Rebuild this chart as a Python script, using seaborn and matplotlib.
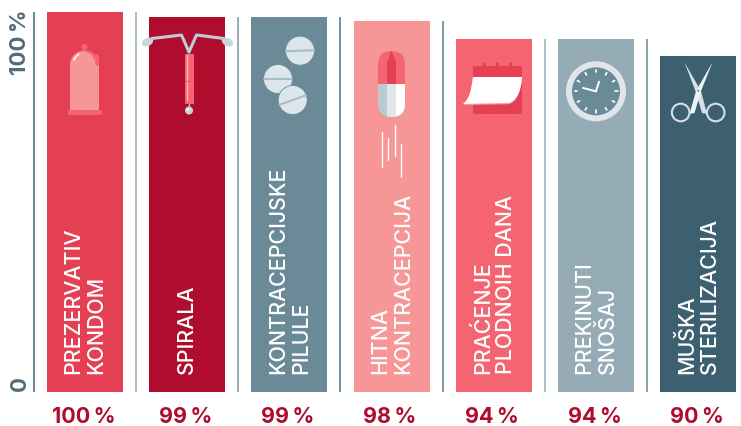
import numpy as np
import matplotlib
matplotlib.use("Agg")
import matplotlib.pyplot as plt
import pandas as pd
import seaborn as sns
from matplotlib.patches import Circle, Ellipse, FancyBboxPatch, Polygon, Rectangle, Wedge, PathPatch
from matplotlib.path import Path

categories = ["PREZERVATIV\nKONDOM", "SPIRALA", "KONTRACEPCIJSKE\nPILULE", "HITNA\nKONTRACEPCIJA",
              "PRAĆENJE\nPLODNOIH DANA", "PREKINUTI\nSNOŠAJ", "MUŠKA\nSTERILIZACIJA"]
heights = [100, 98.7, 98.7, 97.6, 92.9, 92.9, 88.4]
labels = ["100\u2009%", "99\u2009%", "99\u2009%", "98\u2009%", "94\u2009%", "94\u2009%", "90\u2009%"]
colors = ["#E43F53", "#AF0C2E", "#6B8A98", "#F79696", "#F46571", "#95ABB5", "#3C6070"]
line_colors = ["#5F7C8A", "#A5BAC4", "#8FA8B3", "#5F8A9A", "#6F93A3", "#A5BAC4", "#7F9AA6"]
line_tops = [100, 100, 98.7, 98.7, 97.6, 92.9, 92.9]
FONT = "Inter"
W, H = 741, 426
fig = plt.figure(figsize=(W/100, H/100), dpi=100)
STEP = 102.17
ax = fig.add_axes([34/W, 1-392/H, (W-34)/W, 380/H])
df = pd.DataFrame({"c": categories, "h": heights})
sns.barplot(data=df, x="c", y="h", hue="c", palette=colors, order=categories, hue_order=categories,
            width=76/STEP, legend=False, ax=ax, saturation=1)
ax.set_xlim(-0.5, (W-85)/STEP)
ax.set_ylim(0, 100)
ax.axis("off")
for i, (t, c) in enumerate(zip(line_tops, line_colors)):
    ax.vlines(i-0.5, 0, t, color=c, lw=1.3, clip_on=False)
for i, (cat, lab) in enumerate(zip(categories, labels)):
    ax.annotate(cat, (i, 0), xytext=(0, 13), textcoords="offset points", rotation=90,
                ha="center", va="bottom", color="white", fontsize=15.4, family=FONT, fontweight=500,
                linespacing=1.17, multialignment="left", annotation_clip=False)
    ax.annotate(lab, (i, 0), xytext=(-1, -18), textcoords="offset points", ha="center", va="center",
                color="#AF0C2E", fontsize=15.5, family=FONT, fontweight="bold", annotation_clip=False)
ax.annotate("100\u2009%", (-0.5, 100), xytext=(-17, 1.5), textcoords="offset points", rotation=90, ha="left", va="top",
            color="#536C79", fontsize=16, family=FONT, fontweight="bold", annotation_clip=False)
ax.annotate("0", (-0.5, 0), xytext=(-17, 0.5), textcoords="offset points", rotation=90, ha="left", va="bottom",
            color="#536C79", fontsize=16, family=FONT, fontweight="bold", annotation_clip=False)

# decorative icons in pixel space
ov = fig.add_axes([0, 0, 1, 1]); ov.set_xlim(0, W); ov.set_ylim(H, 0); ov.axis("off"); ov.patch.set_alpha(0)
def poly(pts, c, **k):
    p = Polygon(pts, closed=True, fc=c, ec="none", **k); ov.add_patch(p); return p
def line(pts, c, lw=1.2):
    p = np.array(pts); ov.plot(p[:, 0], p[:, 1], color=c, lw=lw, solid_capstyle="round", solid_joinstyle="round")
def rbox(x, y, w, h, r, c):
    b = FancyBboxPatch((x+r, y+r), w-2*r, h-2*r, boxstyle=f"round,pad={r}", fc=c, ec="none"); ov.add_patch(b); return b
# condom
ov.add_patch(Circle((84.5, 47), 3, fc="#F46571", ec="none"))
ov.add_patch(Wedge((84.5, 64.5), 14.5, 180, 360, fc="#F46571", ec="none"))
ov.add_patch(Ellipse((83, 66), 26, 29, fc="#F79696", ec="none"))
poly([(70, 65), (99, 65), (99, 111), (70, 111)], "#F79696")
ov.add_patch(Ellipse((97, 60), 4, 12, fc="#F46571", ec="none"))
rbox(68, 110, 34, 5, 2, "#F46571")
line([(74, 60), (75.5, 57), (79, 54)], "white", 1.1)
# IUD
rbox(185, 54, 9, 50, 0.5, "#F46571")
line([(186.5, 55), (186.5, 100)], "#F8B8BC", 1)
line([(185, 81), (189, 81)], "#E43F53", .5)
line([(189, 104), (189, 108)], "#BCCDD5", 1)
ov.add_patch(Circle((189, 110.5), 4, fc="#C8D6DC", ec="none"))
ov.add_patch(Circle((188, 109.5), 1.3, fc="white", ec="none"))
line([(189, 52), (181.5, 35), (152, 38.5)], "#BCCDD5", 2.2)
line([(189, 52), (196.5, 35), (224, 38.5)], "#BCCDD5", 2.2)
ov.add_patch(Ellipse((147.5, 42), 12, 8, angle=-25, fc="#C8D6DC", ec="none"))
ov.add_patch(Ellipse((227.5, 42), 12, 8, angle=25, fc="#C8D6DC", ec="none"))
# pills
for (cx, cy, a) in [(300, 50.7, -2), (278, 79, 0), (292.7, 100, -20)]:
    ov.add_patch(Circle((cx, cy), 14.5, fc="#DCE6EB", ec="#6B8A98", lw=0.6))
    th = np.radians(a); dx, dy = 14*np.cos(th), 14*np.sin(th)
    line([(cx-dx, cy-dy), (cx+dx, cy+dy)], "#A8BEC6", 1.5)
# emergency pill
cap = rbox(378, 51, 27, 66, 13.4, "#B9CAD3")
parts = [poly([(378, 51), (405, 51), (405, 84), (378, 84)], "#F46571"),
         poly([(387, 84), (396, 84), (396, 62), (391.5, 51), (387, 62)], "#E43F53"),
         poly([(387, 84), (396, 84), (396, 118), (387, 118)], "#E0E7EC"),
         poly([(396, 84), (405, 84), (405, 118), (396, 118)], "white")]
for p in parts:
    p.set_clip_path(cap)
for x, y0, y1 in [(381.5, 132, 167), (388, 138, 160), (394.5, 125, 156), (401, 144, 177)]:
    line([(x, y0), (x, y1)], "white", 1)
# calendar
rbox(473, 66, 49, 48, 2, "#E43F53")
for x in [484, 497, 510]:
    line([(x, 63), (x, 67)], "#E43F53", 2)
def page(dy, c):
    verts = [(473, 77+dy), (522, 77+dy), (521, 92+dy), (516, 101+dy), (509, 103+dy), (463, 104+dy),
             (470, 98+dy), (471, 90+dy), (473, 77+dy), (473, 77+dy)]
    codes = [Path.MOVETO, Path.LINETO, Path.CURVE4, Path.CURVE4, Path.CURVE4, Path.LINETO,
             Path.CURVE4, Path.CURVE4, Path.CURVE4, Path.CLOSEPOLY]
    ov.add_patch(PathPatch(Path(verts, codes), fc=c, ec="none"))
page(1.2, "#F79696")
page(0, "white")
# clock
ov.add_patch(Circle((596, 91.3), 30, fc="#E0E5E8", ec="none"))
ov.add_patch(Circle((596, 91.3), 24, fc="#6B8A98", ec="none"))
for k in range(12):
    a = np.radians(30*k)
    line([(596+19*np.sin(a), 91.3-19*np.cos(a)), (596+21.5*np.sin(a), 91.3-21.5*np.cos(a))], "white", 1.2)
line([(596, 91.3), (599, 81.7)], "white", 1.4)
line([(596, 91.3), (583, 88)], "white", 1.4)
# scissors
poly([(684.3, 62), (695.5, 91), (702, 113), (707, 114), (701, 91)], "#D5E0E5")
poly([(712.7, 62), (701, 91), (694.5, 113), (689.5, 114), (696, 91)], "#F0F4F6")
ov.add_patch(Circle((680.7, 112.5), 8.8, fc="none", ec="#D5E0E5", lw=1.5))
ov.add_patch(Circle((715.7, 112.5), 8.8, fc="none", ec="#D5E0E5", lw=1.5))
ov.add_patch(Circle((698.3, 90.7), 0.9, fc="#3C6070", ec="none"))
fig.savefig("out.png", dpi=100, facecolor="white")
